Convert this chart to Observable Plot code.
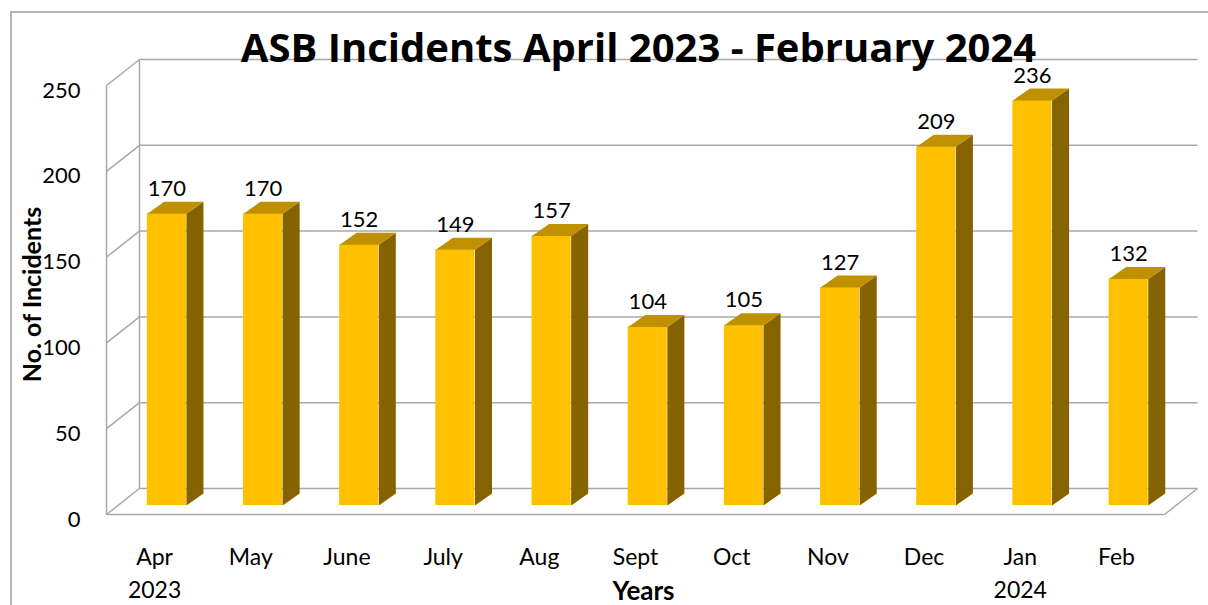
<!DOCTYPE html>
<html>
<head>
<meta charset="utf-8">
<script src="https://cdn.jsdelivr.net/npm/d3@7"></script>
<script src="https://cdn.jsdelivr.net/npm/@observablehq/plot@0.6"></script>
<style>
  body { margin: 0; background: #fff; }
  #wrap { position: relative; width: 1208px; height: 605px; overflow: hidden; }
  #chart { position: absolute; left: 0; top: 0; }
  #border { position: absolute; left: 10px; top: 11px; width: 1400px; height: 800px;
            border: 2px solid #b4b4b4; box-sizing: border-box; pointer-events: none; }
</style>
</head>
<body>
<div id="wrap"><div id="chart"></div><div id="border"></div></div>
<script>
// ---- data ----
const months = ["Apr", "May", "June", "July", "Aug", "Sept", "Oct", "Nov", "Dec", "Jan", "Feb"];
const years = ["2023", "", "", "", "", "", "", "", "", "2024", ""];
const incidents = [170, 170, 152, 149, 157, 104, 105, 127, 209, 236, 132];
const yTicks = [0, 50, 100, 150, 200, 250];
const title = "ASB Incidents April 2023 - February 2024";
const xTitle = "Years";
const yTitle = "No. of Incidents";

// ---- 3D oblique projection constants (data units) ----
const N = months.length;
const DX = 0.343, DY = 15.15;   // wall depth
const FX = 0.119, FY = 5.24;    // bar placement depth
const BX = 0.177, BY = 7.0;     // bar depth
const B0 = 0.305, B1 = 0.712;   // bar extent within band
const yMax = d3.max(yTicks);

const rows = months.map((m, i) => ({ i, m, yr: years[i], v: incidents[i] }));

const sides = [], tops = [];
rows.forEach(d => {
  const xl = d.i + B0 + FX, xr = d.i + B1 + FX, b = FY, t = d.v + FY;
  sides.push({ id: d.i, x: xr, y: b }, { id: d.i, x: xr + BX, y: b + BY },
             { id: d.i, x: xr + BX, y: t + BY }, { id: d.i, x: xr, y: t });
  tops.push({ id: d.i, x: xl, y: t }, { id: d.i, x: xr, y: t },
            { id: d.i, x: xr + BX, y: t + BY }, { id: d.i, x: xl + BX, y: t + BY });
});

const grid = "#a8a8a8";
const font = "Lato, 'Open Sans', sans-serif";

const chart = Plot.plot({
  width: 1208,
  height: 605,
  marginLeft: 106,
  marginRight: 44,
  marginTop: 48,
  marginBottom: 65,
  style: { fontFamily: font, background: "transparent", color: "#000" },
  x: { domain: [0, N], range: [106, 1164], axis: null },
  y: { domain: [0, yMax], range: [514, 85], axis: null },
  marks: [
    // back wall gridlines
    Plot.link(yTicks, { x1: () => DX, x2: () => N + DX, y1: t => t + DY, y2: t => t + DY, stroke: grid, strokeWidth: 1.5 }),
    // side wall diagonals
    Plot.link(yTicks, { x1: () => 0, x2: () => DX, y1: t => t, y2: t => t + DY, stroke: grid, strokeWidth: 1.5 }),
    // verticals
    Plot.link([0], { x1: () => 0, x2: () => 0, y1: () => 0, y2: () => yMax, stroke: grid, strokeWidth: 1.5 }),
    Plot.link([0], { x1: () => DX, x2: () => DX, y1: () => DY, y2: () => yMax + DY, stroke: grid, strokeWidth: 1.5 }),
    // floor front and right edge
    Plot.link([0], { x1: () => 0, x2: () => N, y1: () => 0, y2: () => 0, stroke: grid, strokeWidth: 1.5 }),
    Plot.link([0], { x1: () => N, x2: () => N + DX, y1: () => 0, y2: () => DY, stroke: grid, strokeWidth: 1.5 }),
    // bars
    Plot.rect(rows, { x1: d => d.i + B0 + FX, x2: d => d.i + B1 + FX, y1: () => FY, y2: d => d.v + FY, fill: "#ffc000" }),
    Plot.line(sides, { x: "x", y: "y", z: "id", fill: "#846300", stroke: "none" }),
    Plot.line(tops, { x: "x", y: "y", z: "id", fill: "#bf9000", stroke: "none" }),
    // value labels
    Plot.text(rows, { x: d => d.i + (B0 + B1) / 2 + FX, y: d => d.v + FY + BY, text: d => String(d.v), dy: -13, fontSize: 22 }),
    // y tick labels
    Plot.text(yTicks, { y: d => d, text: d => String(d), frameAnchor: "left", textAnchor: "end", dx: -26, dy: 5, fontSize: 22 }),
    // x tick labels
    Plot.text(rows, { x: d => d.i + 0.5, y: () => 0, text: d => d.yr ? d.m + "\n" + d.yr : d.m,
                      lineAnchor: "top", dy: 28, lineHeight: 1.4, fontSize: 23 }),
    // title
    Plot.text([title], { text: d => d, frameAnchor: "top", lineAnchor: "top", dx: 3, dy: -15, fontSize: 40,
                         fontWeight: "bold", fontFamily: "'Open Sans', sans-serif" }),
    // axis titles
    Plot.text([xTitle], { text: d => d, frameAnchor: "bottom", lineAnchor: "middle", dx: 8, dy: 51, fontSize: 26, fontWeight: "bold" }),
    Plot.text([yTitle], { text: d => d, frameAnchor: "left", textAnchor: "middle", dx: -74, rotate: -90, fontSize: 25, fontWeight: "bold" })
  ]
});
document.getElementById("chart").appendChild(chart);
</script>
</body>
</html>
